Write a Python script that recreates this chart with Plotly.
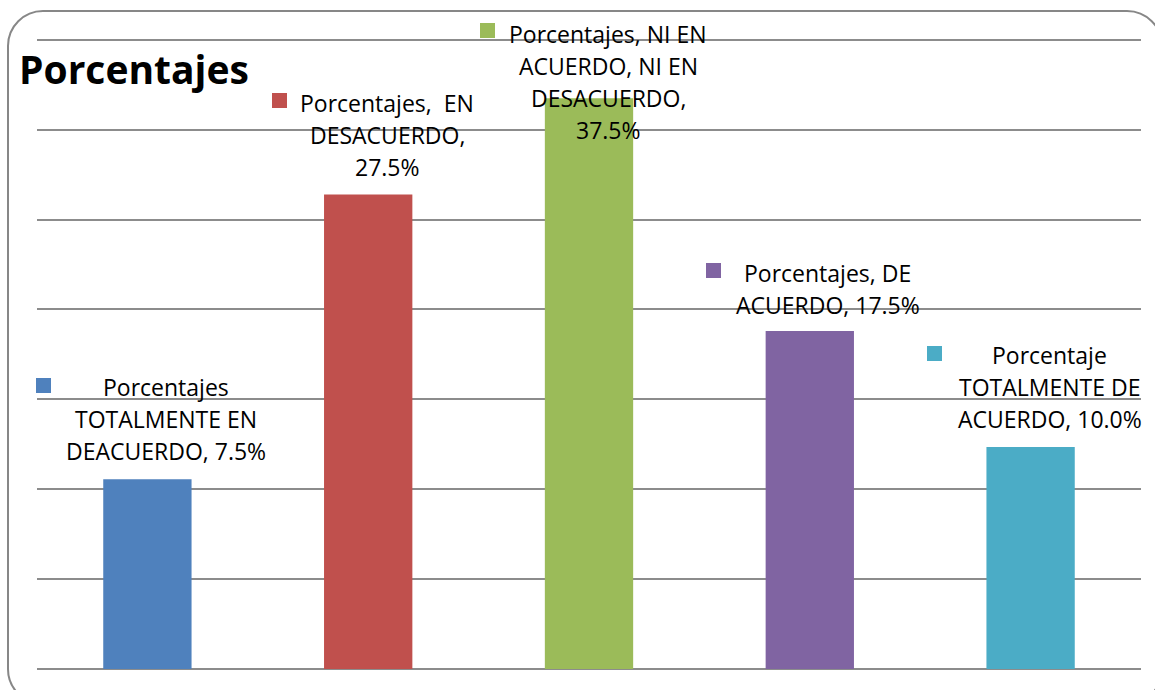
import plotly.graph_objects as go

# ---------------- data ----------------
categories = [
    "TOTALMENTE EN DEACUERDO",
    "EN DESACUERDO",
    "NI EN ACUERDO, NI EN DESACUERDO",
    "DE ACUERDO",
    "TOTALMENTE DE ACUERDO",
]
# bar heights as drawn in the picture (gridline units, axis 0-7, no tick labels)
bar_heights = [2.11, 5.28, 6.35, 3.76, 2.47]
percent_labels = ["7.5%", "27.5%", "37.5%", "17.5%", "10.0%"]
label_lines = [
    ["Porcentajes", "TOTALMENTE EN", "DEACUERDO, 7.5%"],
    ["Porcentajes,\u00a0 EN", "DESACUERDO,", "27.5%"],
    ["Porcentajes, NI EN", "ACUERDO, NI EN", "DESACUERDO,", "37.5%"],
    ["Porcentajes, DE", "ACUERDO, 17.5%"],
    ["Porcentaje", "TOTALMENTE DE", "ACUERDO, 10.0%"],
]
title_text = "Porcentajes"

# ---------------- style ----------------
colors = ["#4F81BD", "#C0504D", "#9BBB59", "#8064A2", "#4BACC6"]
FONT = "Open Sans"
LABEL_SIZE = 23
LINE_STEP = 32
label_lift = [28, 27, -32, 26, 28]          # last-line centre above bar top (px)
label_dx = [19, 19, 19, 18, 19]
key_dx = [-111.5, -96, -109.5, -103.5, -103.5]   # key left edge vs bar centre (px)
key_dy = [86, 86, 60, 53, 86]                    # key bottom edge above bar top (px)
KEY = 15

W, H = 1155, 690
ML, MR, MT, MB = 37, 14, 38, 21
PW, PH = W - ML - MR, H - MT - MB
Y_MAX = 7.02

xs = list(range(len(categories)))

fig = go.Figure(
    go.Bar(
        x=xs,
        y=bar_heights,
        marker=dict(color=colors, line=dict(width=0)),
        hovertext=[f"{c}: {p}" for c, p in zip(categories, percent_labels)],
        hoverinfo="text",
    )
)

annotations = []
shapes = []
for i, lines in enumerate(label_lines):
    n = len(lines)
    for k, line in enumerate(lines):
        annotations.append(
            dict(
                x=xs[i], y=bar_heights[i], xref="x", yref="y",
                text=line, showarrow=False,
                xanchor="center", yanchor="middle",
                xshift=label_dx[i],
                yshift=label_lift[i] + (n - 1 - k) * LINE_STEP,
                font=dict(family=FONT, size=LABEL_SIZE, color="#000000"),
            )
        )
    # legend key square
    annotations.append(
        dict(
            x=xs[i], y=bar_heights[i], xref="x", yref="y",
            text="\u00a0", showarrow=False,
            xanchor="left", yanchor="bottom",
            xshift=key_dx[i], yshift=key_dy[i],
            width=KEY, height=KEY, borderpad=0, borderwidth=0,
            bgcolor=colors[i], font=dict(size=1),
        )
    )

# rounded outer border (pixel geometry -> paper coords)
def px(xp):
    return (xp - ML) / PW


def py(yp):
    return (H - MB - yp) / PH


L, T, R, B, r = 8, 11, 1162, 704, 35
k = 0.5523 * r
pts = [
    ("M", [(L + r, T)]),
    ("L", [(R - r, T)]),
    ("C", [(R - r + k, T), (R, T + r - k), (R, T + r)]),
    ("L", [(R, B - r)]),
    ("C", [(R, B - r + k), (R - r + k, B), (R - r, B)]),
    ("L", [(L + r, B)]),
    ("C", [(L + r - k, B), (L, B - r + k), (L, B - r)]),
    ("L", [(L, T + r)]),
    ("C", [(L, T + r - k), (L + r - k, T), (L + r, T)]),
]
path = ""
for cmd, ps in pts:
    path += cmd + " " + " ".join(f"{px(a):.5f},{py(b):.5f}" for a, b in ps) + " "
path += "Z"
shapes.append(
    dict(type="path", xref="paper", yref="paper", path=path,
         line=dict(color="#878787", width=2), fillcolor="rgba(0,0,0,0)", layer="above")
)

fig.update_layout(
    width=W, height=H,
    margin=dict(l=ML, r=MR, t=MT, b=MB, pad=0),
    paper_bgcolor="white", plot_bgcolor="white",
    bargap=0.6,
    showlegend=False,
    title=dict(
        text=f"<b>{title_text}</b>",
        x=19 / W, xref="container", xanchor="left",
        y=1 - 70 / H, yref="container", yanchor="middle",
        font=dict(family=FONT, size=39, color="#000000"),
    ),
    xaxis=dict(range=[-0.5, len(categories) - 0.5], showticklabels=False,
               showgrid=False, zeroline=False, showline=False, ticks=""),
    yaxis=dict(range=[0, Y_MAX], dtick=1, tick0=0, showticklabels=False,
               showgrid=True, gridcolor="#8c8c8c", gridwidth=1.6,
               zeroline=True, zerolinecolor="#8c8c8c", zerolinewidth=1.6,
               showline=False, ticks=""),
    annotations=annotations,
    shapes=shapes,
)

fig.write_html(
    "out.html",
    config={"displayModeBar": False},
    post_script="document.body.style.margin='0';document.body.style.overflow='hidden';",
)
